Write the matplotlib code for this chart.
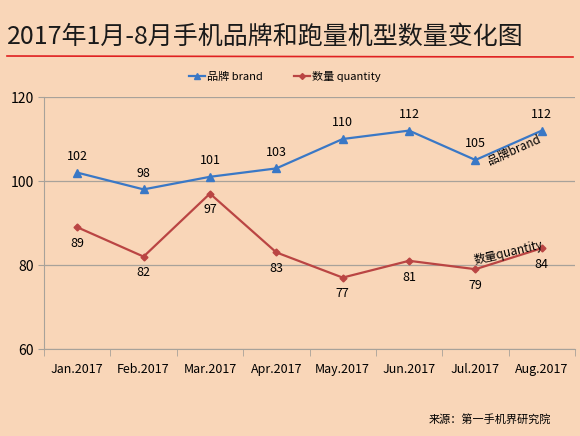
import matplotlib.pyplot as plt
import matplotlib.lines as mlines

plt.rcParams['font.family'] = ['Noto Sans CJK SC', 'DejaVu Sans']

# dane
months = ['Jan.2017', 'Feb.2017', 'Mar.2017', 'Apr.2017',
          'May.2017', 'Jun.2017', 'Jul.2017', 'Aug.2017']
brand = [102, 98, 101, 103, 110, 112, 105, 112]
quantity = [89, 82, 97, 83, 77, 81, 79, 84]

bg = '#F9D6B8'
blue = '#3A78C6'
red = '#BA4543'
grid = '#A8A29A'

fig = plt.figure(figsize=(5.8, 4.36), dpi=100, facecolor=bg)
ax = fig.add_axes([44 / 580, 87 / 436, 531 / 580, 252 / 436])
ax.set_facecolor(bg)

x = list(range(len(months)))
ax.plot(x, brand, color=blue, lw=1.6, marker='^', ms=6)
ax.plot(x, quantity, color=red, lw=1.6, marker='D', ms=3.5)

for i, v in enumerate(brand):
    ax.annotate(str(v), (i, v), xytext=(0, 7), textcoords='offset points',
                ha='center', va='bottom', fontsize=9)
for i, v in enumerate(quantity):
    ax.annotate(str(v), (i, v), xytext=(0, -7), textcoords='offset points',
                ha='center', va='top', fontsize=9)

ax.set_xlim(-0.5, len(months) - 0.5)
ax.set_ylim(60, 120)
ax.set_yticks([60, 80, 100, 120])
ax.set_xticks(x)
ax.set_xticklabels(months, fontsize=9)
ax.tick_params(axis='y', labelsize=10, length=4, color=grid)
ax.tick_params(axis='x', length=0, pad=10)
ax.set_xticks([i - 0.5 for i in range(len(months) + 1)], minor=True)
ax.tick_params(axis='x', which='minor', length=5, color=grid)
ax.grid(axis='y', color=grid, lw=0.9)
ax.set_axisbelow(True)
for s in ['top', 'right']:
    ax.spines[s].set_visible(False)
for s in ['left', 'bottom']:
    ax.spines[s].set_color(grid)

# etykiety przy liniach
ax.text(6.58, 107.3, '品牌brand', rotation=24, fontsize=8.5, ha='center', va='center')
ax.text(6.5, 82.8, '数量quantity', rotation=13, fontsize=8.5, ha='center', va='center')

# legenda
h1 = mlines.Line2D([], [], color=blue, marker='^', ms=5, lw=1.6)
h2 = mlines.Line2D([], [], color=red, marker='D', ms=3, lw=1.6)
fig.legend([h1, h2], ['品牌 brand', '数量 quantity'], loc='center',
           bbox_to_anchor=(285 / 580, 1 - 76 / 436), ncol=2, frameon=False,
           fontsize=8, handlelength=1.4, handletextpad=0.2, columnspacing=2.8)

# tytuł
fig.text(7 / 580, 1 - 37 / 436, '2017年1月-8月手机品牌和跑量机型数量变化图',
         fontsize=18, va='center', ha='left', color='#1a1a1a')
fig.add_artist(mlines.Line2D([7 / 580, 573 / 580], [1 - 56 / 436, 1 - 57 / 436],
                             color='#E02020', lw=1.2))

fig.text(551 / 580, 1 - 419 / 436, '来源：第一手机界研究院', fontsize=8,
         ha='right', va='center')

plt.savefig('out.png', dpi=100, facecolor=bg)
